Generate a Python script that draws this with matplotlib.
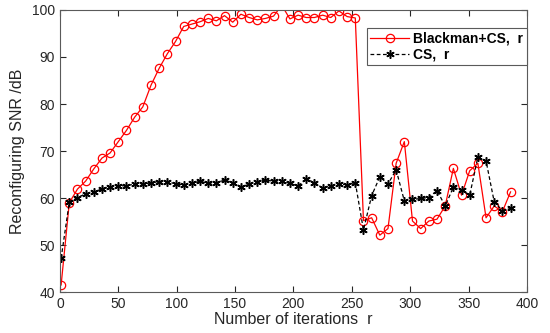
import matplotlib
matplotlib.use("Agg")
import matplotlib.pyplot as plt

plt.rcParams['font.family'] = ['Liberation Sans', 'DejaVu Sans']

# iteration index r (sampled every 7 iterations)
iterations = [1, 8, 15, 22, 29, 36, 43, 50, 57, 64, 71, 78, 85, 92, 99, 106,
              113, 120, 127, 134, 141, 148, 155, 162, 169, 176, 183, 190, 197,
              204, 211, 218, 225, 232, 239, 246, 253, 260, 267, 274, 281, 288,
              295, 302, 309, 316, 323, 330, 337, 344, 351, 358, 365, 372, 379, 386]

snr_blackman_cs = [41.5, 59.0, 61.9, 63.6, 66.2, 68.5, 69.6, 72.0, 74.4, 77.2,
                   79.4, 84.0, 87.6, 90.7, 93.3, 96.5, 97.0, 97.5, 98.2, 97.7,
                   98.8, 97.4, 99.1, 98.4, 97.9, 98.2, 98.7, 101.0, 98.1, 98.9,
                   98.4, 98.4, 98.9, 98.4, 99.8, 98.6, 98.3, 55.2, 55.8, 52.1,
                   53.5, 67.4, 72.0, 55.1, 53.5, 55.1, 55.5, 58.3, 66.3, 60.6,
                   65.8, 67.4, 55.8, 58.3, 57.1, 61.3]

snr_cs = [47.2, 59.1, 60.1, 60.9, 61.2, 62.0, 62.3, 62.6, 62.6, 63.0,
          63.0, 63.2, 63.5, 63.5, 63.0, 62.8, 63.1, 63.6, 63.1, 63.3,
          63.8, 63.3, 62.4, 62.9, 63.5, 63.8, 63.6, 63.6, 63.1, 62.6,
          64.0, 63.3, 62.1, 62.6, 63.0, 62.8, 63.3, 53.2, 60.5, 64.5,
          63.0, 66.0, 59.4, 59.7, 59.9, 60.1, 61.6, 58.3, 62.3, 61.7,
          60.6, 68.7, 67.9, 59.2, 57.3, 57.8]

xticks = [0, 50, 100, 150, 200, 250, 300, 350, 400]
yticks = [40, 50, 60, 70, 80, 90, 100]

fig = plt.figure(figsize=(5.5, 3.33), dpi=100)
ax = fig.add_axes([0.109, 0.123, 0.849, 0.847])

ax.plot(iterations, snr_blackman_cs, color='red', linestyle='-', linewidth=0.9,
        marker='o', markersize=6, markerfacecolor='none', markeredgecolor='red',
        markeredgewidth=0.9, label='Blackman+CS,  r')
ax.plot(iterations, snr_cs, color='black', linestyle='--', linewidth=0.9,
        dashes=(3, 2), marker=(6, 2, 0), markersize=6, markeredgewidth=1.1,
        markeredgecolor='black', label='CS,  r')

ax.set_xlim(0, 400)
ax.set_ylim(40, 100)
ax.set_xticks(xticks)
ax.set_yticks(yticks)
ax.tick_params(direction='in', top=True, right=True, length=4, width=0.8,
               labelsize=10, colors='#262626')
for spine in ax.spines.values():
    spine.set_color('#5a5a5a')
    spine.set_linewidth(0.8)

ax.set_xlabel('Number of iterations  r', fontsize=11.5, labelpad=1, color='#262626')
ax.set_ylabel('Reconfiguring SNR /dB', fontsize=11.5, labelpad=5, color='#262626')

leg = ax.legend(loc='upper right', bbox_to_anchor=(1.0, 0.935), borderaxespad=0,
                fancybox=False, framealpha=1, edgecolor='#5a5a5a',
                handlelength=2.8, handletextpad=0.3, borderpad=0.25,
                labelspacing=0.15, prop={'weight': 'bold', 'size': 10})
leg.get_frame().set_linewidth(0.8)

fig.savefig('out.png', dpi=100)
